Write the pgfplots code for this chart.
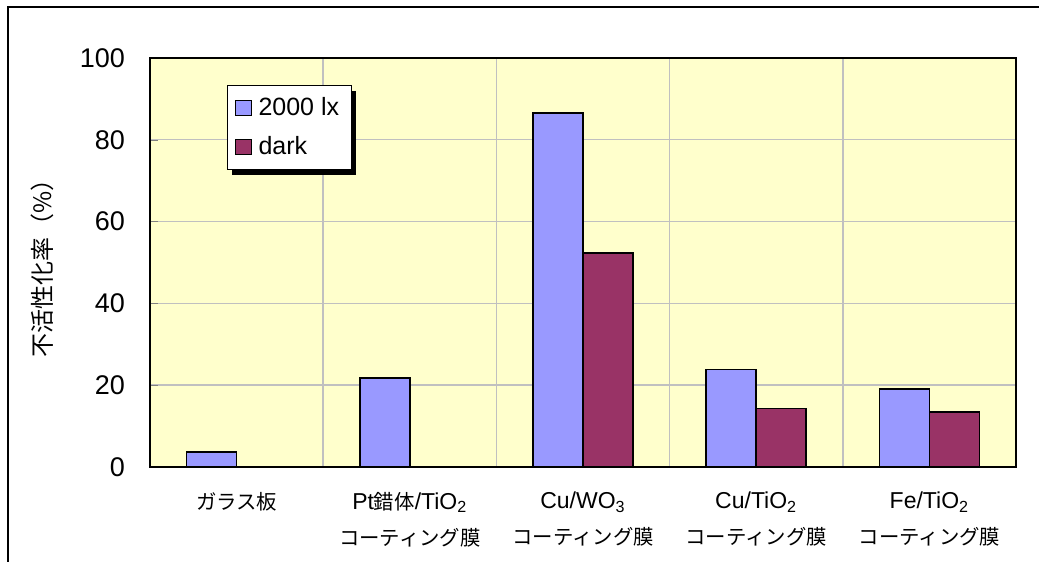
\documentclass[border=0pt]{standalone}
\usepackage{fontspec}
\setmainfont{Liberation Sans}
\newfontfamily\cjk{Noto Sans CJK JP}
\newcommand{\jp}[1]{{\cjk\fontsize{10.2}{18}\selectfont #1}}
\usepackage{pgfplots}
\pgfplotsset{compat=1.18}
\usetikzlibrary{shadows}

\definecolor{barblue}{HTML}{9999FF}
\definecolor{barplum}{HTML}{993366}
\definecolor{plotbg}{HTML}{FFFFCC}
\definecolor{gridgray}{HTML}{C0C0C0}

% the legend's shadow must not reach the little squares inside it
\makeatletter
\tikzset{no preactions/.code={\let\tikz@preactions\pgfutil@empty}}
\makeatother

\begin{document}
\begin{tikzpicture}
\begin{axis}[
    scale only axis,
    width=433pt, height=204.5pt,
    xmin=-0.5, xmax=4.5,
    ymin=0, ymax=100,
    ybar=0pt, bar width=25pt,
    axis background/.style={fill=plotbg},
    axis line style={line width=1pt},
    tick align=inside,
    xtick pos=bottom, ytick pos=left,
    xtick={0,1,2,3,4},
    xtick style={draw=none},
    minor xtick={0.5,1.5,2.5,3.5},
    minor tick length=3pt,
    xminorgrids=true, ymajorgrids=true,
    minor grid style={gridgray, line width=0.7pt},
    major grid style={gridgray, line width=0.7pt},
    ytick={0,20,40,60,80,100},
    major tick length=4pt,
    /pgf/number format/assume math mode=true,
    yticklabel style={font=\fontsize{13.5}{16}\selectfont, xshift=-9pt},
    xticklabels={
        {\jp{ガラス板}},
        {Pt\jp{錯体}/TiO\textsubscript{2}\\\jp{コーティング膜}},
        {Cu/WO\textsubscript{3}\\\jp{コーティング膜}},
        {Cu/TiO\textsubscript{2}\\\jp{コーティング膜}},
        {Fe/TiO\textsubscript{2}\\\jp{コーティング膜}}},
    xticklabel style={font=\fontsize{11.5}{18}\selectfont, align=center,
        anchor=north, yshift=-9pt},
    ylabel={\cjk 不活性化率（\%）},
    ylabel style={font=\fontsize{12}{14}\selectfont,
        at={(axis description cs:-0.124,0.5)}, anchor=center},
    legend style={at={(axis description cs:0.0886,0.934)}, anchor=north west,
        draw=black, line width=0.6pt, fill=white,
        drop shadow={shadow xshift=2.5pt, shadow yshift=-2.5pt,
            fill=black, opacity=1},
        font=\fontsize{12.5}{15}\selectfont,
        row sep=5pt, inner xsep=4pt, inner ysep=4pt,
        legend cell align=left},
    legend image code/.code={
        \draw[#1, no preactions, line width=0.5pt]
            (0pt,-3.8pt) rectangle (7.6pt,3.8pt);},
    every axis plot/.append style={draw=black, line width=0.8pt},
]
\addplot[fill=barblue] coordinates {
    (0,3.7) (1,21.7) (2,86.5) (3,23.8) (4,19.0)
};
\addplot[fill=barplum] coordinates {
    (2,52.3) (3,14.3) (4,13.5)
};
\legend{\hspace{1.5pt}2000 lx, \hspace{1.5pt}dark}
\end{axis}
\draw[line width=1pt] (-70.75pt,-60pt) |- (460pt,229.75pt);
\pgfresetboundingbox
\useasboundingbox (-75pt,-47.5pt) rectangle (444.5pt,233.5pt);
\end{tikzpicture}
\end{document}
